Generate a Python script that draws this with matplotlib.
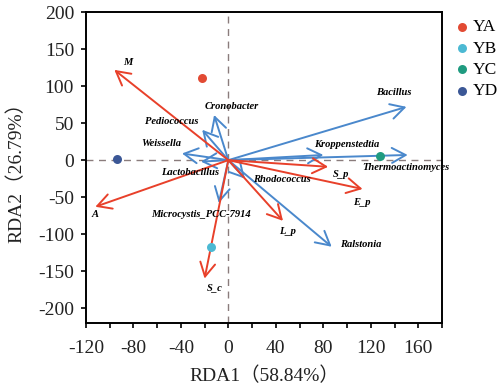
import matplotlib
matplotlib.use('Agg')
import matplotlib.pyplot as plt

# sample scores
site_names = ['YA', 'YB', 'YC', 'YD']
site_x = [-22, -15, 128, -94]
site_y = [111, -117, 6, 2]
site_colors = ['#e24a33', '#4cb9d3', '#1f9b80', '#3b5796']

# environmental factors (red arrows)
env_names = ['M', 'A', 'S_c', 'L_p', 'E_p', 'S_p']
env_x = [-96, -112, -20, 46, 113, 84]
env_y = [122, -63, -160, -82, -39, -9]

# genera (blue arrows)
gen_names = ['Bacillus', 'Kroppenstedtia', 'Thermoactinomyces', 'Rhodococcus',
             'Ralstonia', 'Cronobacter', 'Pediococcus', 'Weissella',
             'Lactobacillus', 'Microcystis_PCC-7914']
gen_x = [150, 80, 151, 14, 87, -12, -22, -39, -23, -8]
gen_y = [72, 7, 7, -25, -117, 61, 41, 9, -2, -58]

# label offsets in pixels from the arrow tip
env_off = [(13, 7), (0, -8), (10, -9), (5, -11), (-1, -13), (13, -8)]
gen_off = [(-13, 14), (23, 10), (-2, -13), (37, -1), (29, 2), (18, 8),
           (-30, 8), (-21, 10), (-11, -11), (-18, -11)]

red = '#e8402a'
blue = '#4a88cc'

plt.rcParams['font.family'] = ['Liberation Serif', 'Noto Sans CJK SC']
plt.rcParams['axes.unicode_minus'] = False

fig = plt.figure(figsize=(4.99, 3.91), dpi=100)
ax = fig.add_axes([0.172, 0.174, 0.714, 0.795])

ax.axhline(0, color='#8a7c7c', lw=1, ls=(0, (5, 4)), zorder=1)
ax.axvline(0, color='#8a7c7c', lw=1, ls=(0, (5, 4)), zorder=1)


def draw_arrows(xs, ys, names, offs, color):
    for x, y, name, off in zip(xs, ys, names, offs):
        ax.annotate('', xy=(x, y), xytext=(0, 0),
                    arrowprops=dict(arrowstyle='->,head_length=0.55,head_width=0.3',
                                    color=color, lw=1.4, shrinkA=0, shrinkB=0,
                                    mutation_scale=18), zorder=3)
        ax.annotate(name, xy=(x, y), xytext=off, textcoords='offset pixels',
                    ha='center', va='center', fontsize=7.6, fontweight='bold',
                    fontstyle='italic', family='Liberation Serif', zorder=4)


draw_arrows(gen_x, gen_y, gen_names, gen_off, blue)
draw_arrows(env_x, env_y, env_names, env_off, red)

for n, x, y, c in zip(site_names, site_x, site_y, site_colors):
    ax.scatter(x, y, s=42, color=c, label=n, zorder=5, linewidths=0)

ax.set_xlim(-120, 180)
ax.set_ylim(-220, 200)
ax.set_xticks(range(-120, 161, 40))
ax.set_xticks(range(-120, 181, 20), minor=True)
ax.set_yticks(range(-200, 201, 50))
ax.tick_params(axis='both', which='both', direction='out', labelsize=14,
               width=1.2, length=3.5, top=False, right=False,
               labelcolor='#222222')
ax.tick_params(axis='x', which='major', pad=9)
ax.tick_params(axis='y', which='major', pad=5)
for s in ax.spines.values():
    s.set_linewidth(1.4)

ax.set_xlabel('RDA1（58.84%）', fontsize=14, labelpad=7, color='#222222')
ax.set_ylabel('RDA2（26.79%）', fontsize=14, labelpad=9, color='#222222')

ax.legend(loc='upper left', bbox_to_anchor=(1.018, 1.0), borderaxespad=0,
          frameon=False, fontsize=12.5, handlelength=0.8, handletextpad=0.2,
          labelspacing=0.3, markerscale=1.0)

fig.savefig('out.png', dpi=100)
